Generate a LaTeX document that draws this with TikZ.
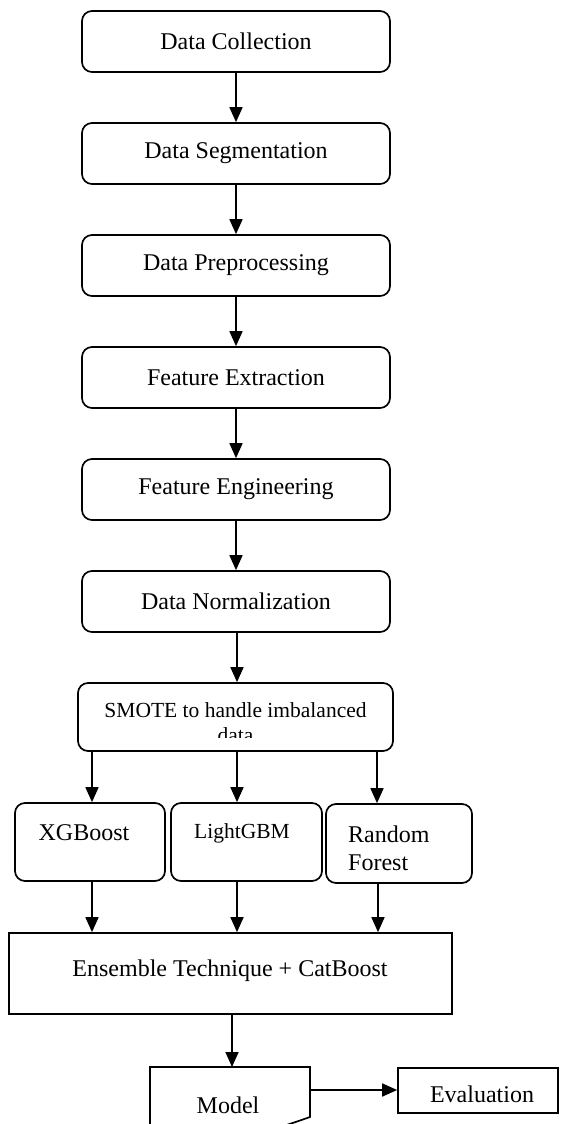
\documentclass[tikz,border=0pt]{standalone}
\usepackage{fontspec}
\setmainfont{Liberation Serif}
\usetikzlibrary{arrows.meta}

\newcommand{\fsz}[1]{\fontsize{#1}{1.15\dimexpr#1pt\relax}\selectfont}

\tikzset{
  outline/.style={draw, line width=1.7pt, inner sep=0pt},
  stepbox/.style={outline, rounded corners=10pt, minimum width=308pt,
                  minimum height=61pt, font=\fsz{24}},
  algbox/.style={outline, rounded corners=10pt},
  plainbox/.style={outline},
  lbl/.style={inner sep=0pt, anchor=base, font=\fsz{24}},
  arr/.style={line width=1.7pt, -{Triangle[length=15pt,width=13pt]}}
}

\begin{document}
\begin{tikzpicture}[x=1pt, y=-1pt]
  \clip (0,0) rectangle (560,1124);
  \fill[white] (0,0) rectangle (560,1124);

  % main pipeline
  \node[stepbox] (collect) at (236,41.5)  {Data Collection};
  \node[stepbox] (segment) at (236,153.5) {Data Segmentation};
  \node[stepbox] (preproc) at (236,265.5) {Data Preprocessing};
  \node[stepbox] (extract) at (236,377.5) {Feature Extraction};
  \node[stepbox] (engineer) at (236,489.5) {Feature Engineering};
  \node[stepbox] (normal) at (236,601.5) {Data Normalization};

  \draw[arr] (collect.south) -- (segment.north);
  \draw[arr] (segment.south) -- (preproc.north);
  \draw[arr] (preproc.south) -- (extract.north);
  \draw[arr] (extract.south) -- (engineer.north);
  \draw[arr] (engineer.south) -- (normal.north);

  % column positions of the vertical connectors
  \coordinate (colA) at (92,0);
  \coordinate (colB) at (237,0);
  \coordinate (colC) at (377,0);
  \coordinate (colD) at (378,0);

  % oversampling step (second line runs past the text area)
  \node[algbox, minimum width=315pt, minimum height=68pt] (smote) at (235.5,717) {};
  \begin{scope}
    \clip (78,683) rectangle (393,737);
    \node[lbl, font=\fsz{21.5}] (smoteA) at (235.5,717) {SMOTE to handle imbalanced};
    \node[lbl, font=\fsz{21.5}] (smoteB) at (235.5,742) {data};
  \end{scope}
  \draw[arr] (normal.south -| colB) -- (smote.north -| colB);

  % classifiers
  \node[algbox, minimum width=150pt, minimum height=78pt] (xgb) at (90,842) {};
  \node[algbox, minimum width=151pt, minimum height=78pt] (lgbm) at (246.5,842) {};
  \node[algbox, minimum width=146pt, minimum height=79pt] (rf) at (399,843.5) {};
  \node[lbl] (xgbT) at (84,840) {XGBoost};
  \node[lbl, font=\fsz{21.5}] (lgbmT) at (242,838) {LightGBM};
  \node[lbl, anchor=base west] (rfA) at (348,842) {Random};
  \node[lbl, anchor=base west] (rfB) at (348,870) {Forest};

  \draw[arr] (smote.south -| colA) -- (xgb.north -| colA);
  \draw[arr] (smote.south -| colB) -- (lgbm.north -| colB);
  \draw[arr] (smote.south -| colC) -- (rf.north -| colC);

  % ensemble
  \node[plainbox, minimum width=443pt, minimum height=81pt] (ens) at (230.5,973.5) {};
  \node[lbl] (ensT) at (230,976) {Ensemble Technique + CatBoost};
  \draw[arr] (xgb.south -| colA) -- (ens.north -| colA);
  \draw[arr] (lgbm.south -| colB) -- (ens.north -| colB);
  \draw[arr] (rf.south -| colD) -- (ens.north -| colD);

  % model (document shape) and evaluation
  \draw[line width=1.7pt, line join=miter]
    (150,1150) -- (150,1067) -- (310,1067) -- (310,1117)
    .. controls (250,1138) and (210,1150) .. (150,1140);
  \coordinate (modelTop) at (232,1067);
  \coordinate (modelRight) at (310,1090);
  \node[lbl] (modelT) at (228,1113) {Model};
  \draw[arr] (ens.south -| modelTop) -- (modelTop);

  \node[plainbox, minimum width=160pt, minimum height=45pt] (eval) at (478,1090.5) {};
  \node[lbl] (evalT) at (482,1102) {Evaluation};
  \draw[arr] (modelRight) -- (modelRight -| eval.west);
\end{tikzpicture}
\end{document}
